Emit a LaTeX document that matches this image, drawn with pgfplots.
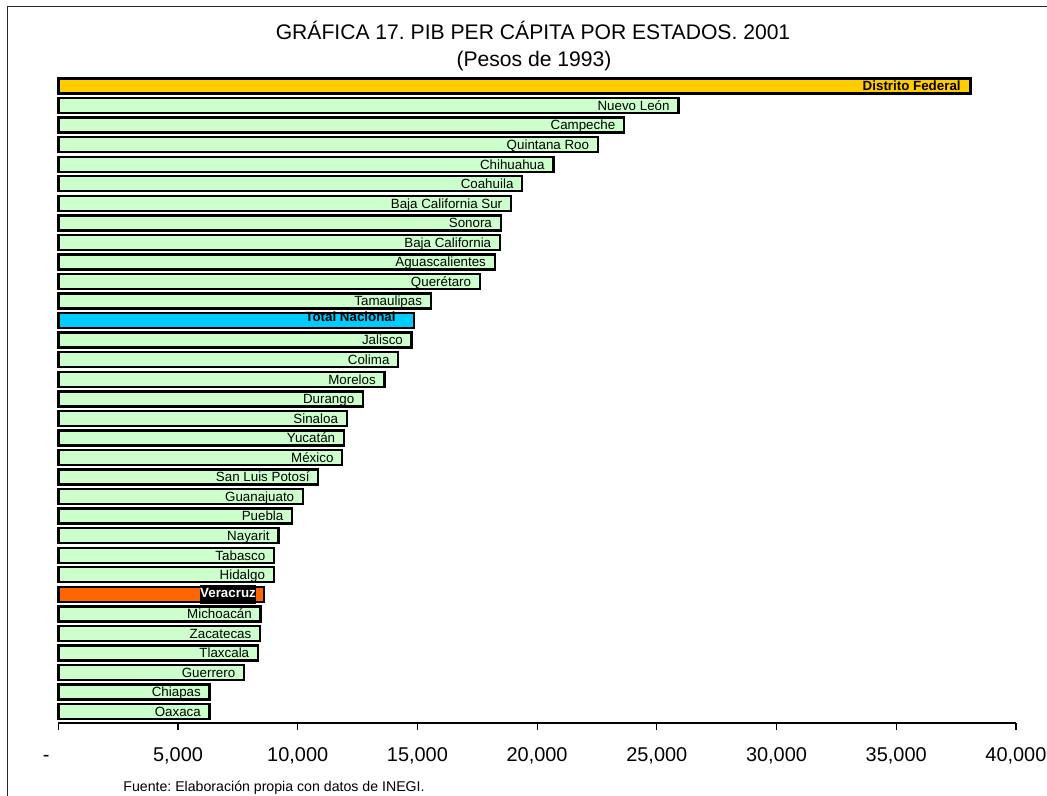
\documentclass[border=0pt]{standalone}
\usepackage{fontspec}
\setmainfont{Liberation Sans}
\usepackage{pgfplots}
\usepackage{pgfplotstable}
\pgfplotsset{compat=1.18}

\definecolor{barGreen}{HTML}{CCFFCC}
\definecolor{barGold}{HTML}{FFCC00}
\definecolor{barCyan}{HTML}{00CCFF}
\definecolor{barOrange}{HTML}{FF6600}

% PIB per capita 2001 (pesos de 1993); pos 32 = top row
\pgfplotstableread[col sep=comma]{
value,pos,name
25900,31,Nuevo León
23630,30,Campeche
22540,29,Quintana Roo
20680,28,Chihuahua
19380,27,Coahuila
18910,26,Baja California Sur
18480,25,Sonora
18450,24,Baja California
18230,23,Aguascalientes
17610,22,Querétaro
15560,21,Tamaulipas
14760,19,Jalisco
14200,18,Colima
13630,17,Morelos
12730,16,Durango
12050,15,Sinaloa
11930,14,Yucatán
11860,13,México
10860,12,San Luis Potosí
10220,11,Guanajuato
9770,10,Puebla
9190,9,Nayarit
9010,8,Tabasco
9000,7,Hidalgo
8450,5,Michoacán
8430,4,Zacatecas
8340,3,Tlaxcala
7760,2,Guerrero
6320,1,Chiapas
6320,0,Oaxaca
}\statedata

\begin{document}
\frenchspacing
\begin{tikzpicture}
% page size: 1047 x 796 px at 0.5bp per px
\path[use as bounding box] (0,0) rectangle (523.5bp,-398bp);
\draw[black!85, line width=0.6bp] (3.65bp,-398bp) -- (3.65bp,-3.35bp) -- (523.5bp,-3.35bp);

\node[anchor=base, font=\fontsize{10.6}{12}\selectfont] at (266.5bp,-19.5bp)
  {GRÁFICA 17. PIB PER CÁPITA POR ESTADOS. 2001};
\node[anchor=base, font=\fontsize{10.6}{12}\selectfont] at (267bp,-33bp)
  {(Pesos de 1993)};

\begin{axis}[
    at={(29.15bp,-361.5bp)}, anchor=south west,
    scale only axis,
    width=478.8bp, height=324.45bp,
    xmin=0, xmax=40000,
    ymin=-0.583, ymax=32.61,
    axis x line*=bottom,
    axis y line=none,
    axis line style={-, line width=0.6bp, black},
    scaled x ticks=false,
    xtick={0,5000,...,40000},
    xticklabels={{-\rule{12bp}{0pt}},{5,000},{10,000},{15,000},{20,000},{25,000},{30,000},{35,000},{40,000}},
    ytick=\empty,
    tick align=outside,
    major tick length=3.5bp,
    xtick style={line width=0.6bp, black},
    xticklabel style={font=\fontsize{10}{12}\selectfont, text height=7.2bp, text depth=0pt, yshift=-5bp},
    xbar, bar width=7.5bp, bar shift=0pt,
    point meta=explicit symbolic,
    nodes near coords,
    every node near coord/.append style={anchor=east, inner sep=0pt, xshift=-3.8bp,
        text height=4.8bp, text depth=0pt, font=\fontsize{6.7}{8}\selectfont, text=black},
    clip=false,
]
\addplot[draw=black, line width=1.2bp, fill=barGreen]
    table[x=value, y=pos, meta=name] {\statedata};
\addplot[draw=black, line width=1.2bp, fill=barGold,
    every node near coord/.append style={font=\fontsize{6.7}{8}\selectfont\bfseries, xshift=-0.6bp}]
    coordinates {(38110,32) [Distrito Federal]};
\addplot[draw=black, line width=1.2bp, fill=barCyan,
    every node near coord/.append style={font=\fontsize{6.7}{8}\selectfont\bfseries, xshift=-4.7bp, yshift=1.75bp}]
    coordinates {(14850,20) [Total Nacional]};
\addplot[draw=black, line width=1.2bp, fill=barOrange,
    every node near coord/.append style={font=\fontsize{6.7}{8}\selectfont\bfseries, text=white,
        fill=black, inner xsep=0.3bp, inner ysep=0.6bp, text height=6bp, text depth=2.5bp, xshift=0.65bp}]
    coordinates {(8590,6) [Veracruz]};
\end{axis}

\node[anchor=base west, inner sep=0pt, font=\fontsize{7.1}{8}\selectfont] at (61.5bp,-395.5bp)
  {Fuente: Elaboración propia con datos de INEGI.};
\end{tikzpicture}
\end{document}
